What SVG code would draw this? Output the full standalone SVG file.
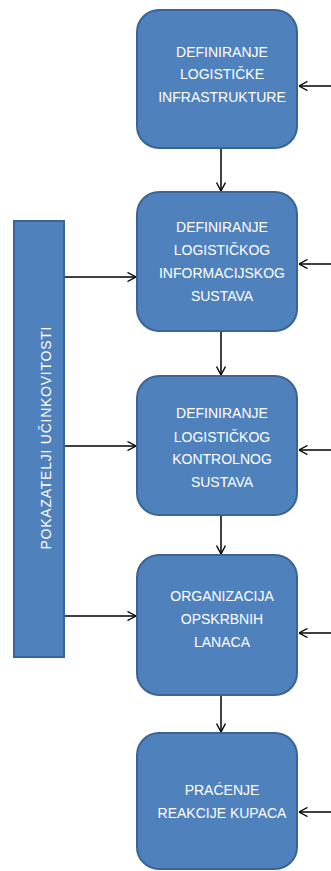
<svg xmlns="http://www.w3.org/2000/svg" width="331" height="871" viewBox="0 0 331 871">
<defs>
<style>
.box{fill:#4f81bd;stroke:#3a6496;stroke-width:2}
.t{fill:#ffffff;font-family:"Liberation Sans",Arial,sans-serif;font-size:14px;text-anchor:middle}
.c{stroke:#000;stroke-width:1.5;fill:none;marker-end:url(#ah)}
</style>
<marker id="ah" viewBox="0 0 10 10" refX="9.5" refY="5" markerWidth="10" markerHeight="10" markerUnits="userSpaceOnUse" orient="auto">
<path d="M1,0.5 L9.5,5 L1,9.5" fill="none" stroke="#000" stroke-width="1.4"/>
</marker>
</defs>
<rect width="331" height="871" fill="#ffffff"/>
<g id="connectors">
<line class="c" x1="221" y1="149" x2="221" y2="191"/>
<line class="c" x1="221" y1="332" x2="221" y2="375"/>
<line class="c" x1="221" y1="516" x2="221" y2="554"/>
<line class="c" x1="221" y1="696" x2="221" y2="732"/>
<line class="c" x1="65" y1="277" x2="136" y2="277"/>
<line class="c" x1="65" y1="446" x2="136" y2="446"/>
<line class="c" x1="65" y1="616" x2="136" y2="616"/>
<line class="c" x1="331" y1="86" x2="299" y2="86"/>
<line class="c" x1="331" y1="264" x2="299" y2="264"/>
<line class="c" x1="331" y1="450" x2="299" y2="450"/>
<line class="c" x1="331" y1="633" x2="299" y2="633"/>
<line class="c" x1="331" y1="812" x2="299" y2="812"/>
</g>
<g id="n1">
<rect class="box" x="137" y="10" width="160" height="138" rx="22"/>
<text class="t" x="222" y="57">DEFINIRANJE</text>
<text class="t" x="222" y="79">LOGISTIČKE</text>
<text class="t" x="222" y="102">INFRASTRUKTURE</text>
</g>
<g id="n2">
<rect class="box" x="137" y="192" width="160" height="139" rx="22"/>
<text class="t" x="222" y="232">DEFINIRANJE</text>
<text class="t" x="222" y="255">LOGISTIČKOG</text>
<text class="t" x="222" y="278">INFORMACIJSKOG</text>
<text class="t" x="222" y="301">SUSTAVA</text>
</g>
<g id="n3">
<rect class="box" x="137" y="376" width="160" height="139" rx="22"/>
<text class="t" x="222" y="418">DEFINIRANJE</text>
<text class="t" x="222" y="442">LOGISTIČKOG</text>
<text class="t" x="222" y="464">KONTROLNOG</text>
<text class="t" x="222" y="487">SUSTAVA</text>
</g>
<g id="n4">
<rect class="box" x="137" y="555" width="160" height="140" rx="22"/>
<text class="t" x="222" y="601">ORGANIZACIJA</text>
<text class="t" x="222" y="624">OPSKRBNIH</text>
<text class="t" x="222" y="647">LANACA</text>
</g>
<g id="n5">
<rect class="box" x="137" y="733" width="160" height="136" rx="22"/>
<text class="t" x="222" y="795">PRAĆENJE</text>
<text class="t" x="222" y="818">REAKCIJE KUPACA</text>
</g>
<g id="bar">
<rect class="box" x="14" y="221" width="50" height="436"/>
<text class="t" transform="translate(51,438) rotate(-90)" x="0" y="0" textLength="223" lengthAdjust="spacing">POKAZATELJI UČINKOVITOSTI</text>
</g>
</svg>
